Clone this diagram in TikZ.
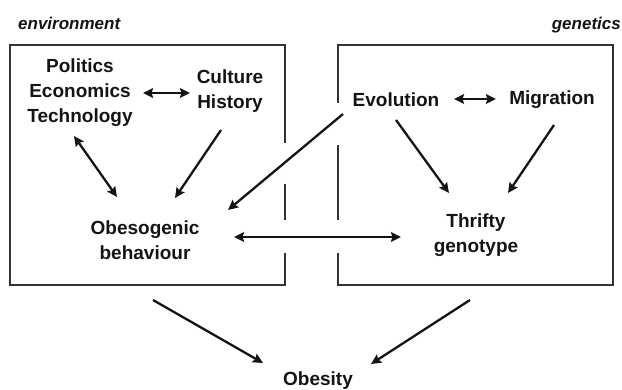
\documentclass[tikz,border=0pt]{standalone}
\usepackage{fontspec}
\setmainfont{Liberation Sans}
\usetikzlibrary{arrows.meta}
\begin{document}
\begin{tikzpicture}[x=1pt,y=-1pt,
  lbl/.style={font=\bfseries\fontsize{19}{25}\selectfont, align=center, inner sep=0pt, text=black!92},
  grp/.style={font=\bfseries\itshape\fontsize{17}{20}\selectfont, inner sep=0pt, text=black!92},
  frame/.style={line width=1.6pt, draw=black!80},
  tip/.tip={Stealth[length=10pt,width=9.5pt,inset=1.5pt]},
  arr/.style={line width=2.3pt, draw=black!92, -tip},
  darr/.style={line width=2.3pt, draw=black!92, tip-tip}]
\useasboundingbox (0,0) rectangle (622,390);
% frames
\draw[frame] (285,143) -- (285,45) -- (10,45) -- (10,285) -- (285,285) -- (285,253);
\draw[frame] (285,184) -- (285,220);
\draw[frame] (338,103) -- (338,45) -- (613,45) -- (613,285) -- (338,285) -- (338,253);
\draw[frame] (338,145) -- (338,220);
% labels
\node[grp, anchor=base west] (env) at (18,30) {environment};
\node[grp, anchor=base east] (gen) at (621,30) {genetics};
\node[lbl] (pet) at (80,93) {Politics\\Economics\\Technology};
\node[lbl] (cult) at (230,91) {Culture\\History};
\node[lbl] (evo) at (396,100) {Evolution};
\node[lbl] (mig) at (552,100) {Migration};
\node[lbl] (obe) at (145,240) {Obesogenic\\behaviour};
\node[lbl] (thr) at (476,235) {Thrifty\\genotype};
\node[lbl, anchor=base] (obs) at (318,386) {Obesity};
% connectors
\draw[darr] ([shift={(63,0)}]pet.center) -- ([shift={(-40,2)}]cult.center);
\draw[darr] ([shift={(-6,43)}]pet.center) -- ([shift={(-28,-43)}]obe.center);
\draw[arr] ([shift={(-9,39)}]cult.center) -- ([shift={(30,-42)}]obe.center);
\draw[arr] ([shift={(-53,14)}]evo.center) -- ([shift={(83,-30)}]obe.center);
\draw[darr] ([shift={(58,-1)}]evo.center) -- ([shift={(-56,-1)}]mig.center);
\draw[arr] ([shift={(0,20)}]evo.center) -- ([shift={(-27,-42)}]thr.center);
\draw[arr] ([shift={(2,25)}]mig.center) -- ([shift={(32,-42)}]thr.center);
\draw[darr] ([shift={(89,-3)}]obe.center) -- ([shift={(-75,2)}]thr.center);
\draw[arr] ([shift={(8,60)}]obe.center) -- ([shift={(-55,-23)}]obs.base);
\draw[arr] ([shift={(-6,65)}]thr.center) -- ([shift={(53,-22)}]obs.base);
\end{tikzpicture}
\end{document}
